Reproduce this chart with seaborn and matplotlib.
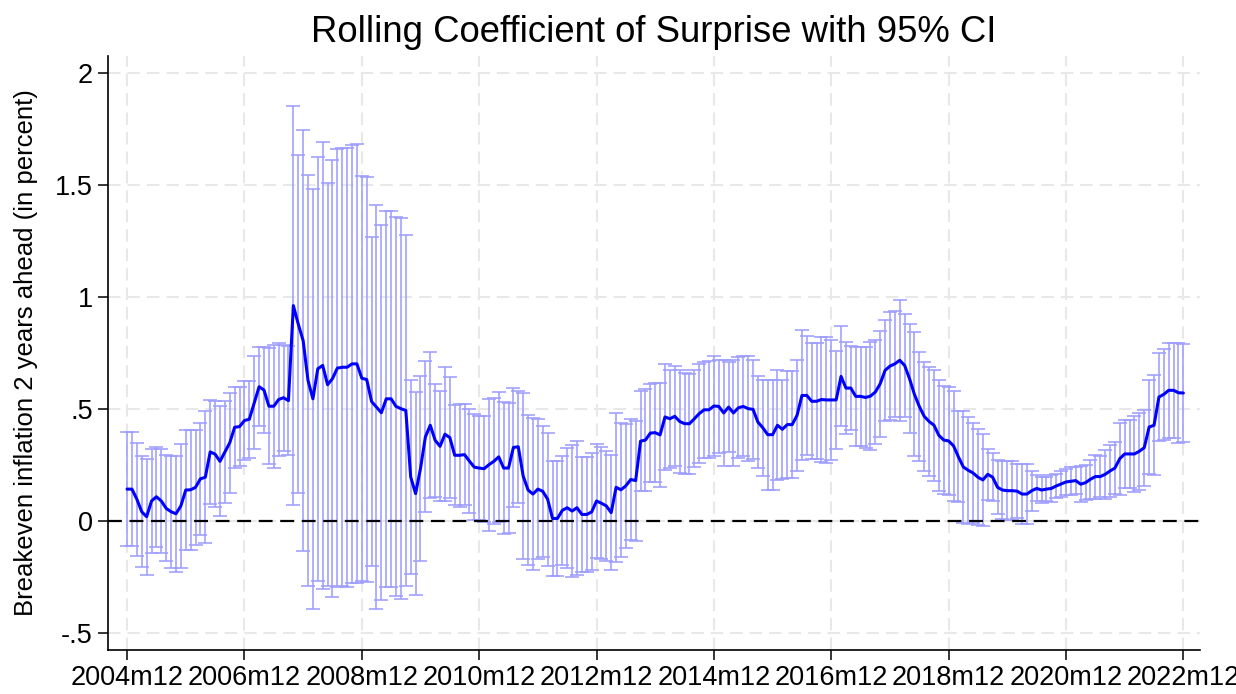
import numpy as np
import pandas as pd
import matplotlib
matplotlib.use("Agg")
import matplotlib.pyplot as plt
import seaborn as sns

# ROLLING COEFFICIENT OF SURPRISE, MONTHLY 2004m12 .. 2022m12
coef = [
    .143, .143, .098, .042, .020, .090, .109, .090, .057, .042, .033, .068,
    .139, .140, .151, .189, .196, .309, .299, .267, .309, .350, .419, .422,
    .449, .455, .528, .600, .585, .513, .513, .543, .551, .538, .962, .880,
    .806, .628, .546, .680, .695, .609, .636, .683, .687, .687, .702, .702,
    .638, .632, .534, .509, .484, .546, .546, .512, .502, .494, .197, .123,
    .235, .376, .428, .361, .334, .388, .373, .294, .294, .297, .268, .241,
    .237, .234, .252, .267, .287, .237, .237, .329, .332, .201, .139, .121,
    .143, .133, .098, .012, .012, .048, .060, .045, .060, .030, .030, .041,
    .090, .080, .068, .038, .151, .140, .158, .186, .181, .357, .362, .393,
    .395, .385, .465, .457, .468, .445, .435, .435, .457, .480, .497, .497,
    .514, .512, .483, .509, .483, .506, .512, .502, .499, .442, .417, .386,
    .386, .428, .410, .431, .431, .472, .561, .561, .535, .535, .543, .541,
    .541, .541, .646, .594, .594, .557, .557, .552, .558, .576, .613, .673,
    .692, .702, .718, .695, .636, .566, .512, .468, .445, .428, .383, .362,
    .358, .336, .287, .242, .227, .215, .196, .184, .209, .196, .151, .139,
    .136, .136, .134, .121, .121, .136, .146, .139, .143, .146, .157, .166,
    .175, .178, .181, .165, .172, .187, .199, .199, .209, .224, .237, .279,
    .300, .300, .300, .312, .328, .420, .428, .554, .566, .584, .584, .573,
    .572,
]
# HALF WIDTH OF THE 95% CI AROUND EACH COEFFICIENT
ci_half = [
    .254, .254, .253, .248, .259, .234, .223, .234, .237, .249, .258, .276,
    .268, .267, .256, .251, .294, .231, .236, .246, .229, .223, .181, .178,
    .177, .171, .207, .177, .192, .259, .274, .252, .236, .242, .892, .753,
    .939, .918, .936, .946, .999, .898, .975, .977, .977, .980, .977, .980,
    .903, .905, .732, .902, .837, .839, .839, .844, .849, .784, .431, .453,
    .415, .337, .326, .252, .246, .299, .270, .223, .229, .226, .233, .237,
    .234, .237, .294, .281, .291, .294, .291, .264, .249, .369, .333, .339,
    .314, .292, .297, .255, .255, .242, .267, .294, .299, .257, .257, .261,
    .254, .249, .246, .256, .332, .300, .276, .271, .268, .224, .229, .220,
    .221, .231, .237, .219, .224, .228, .226, .223, .216, .222, .213, .217,
    .225, .208, .237, .201, .237, .226, .223, .233, .220, .204, .214, .245,
    .245, .245, .221, .239, .239, .248, .290, .267, .259, .259, .278, .280,
    .268, .220, .223, .205, .186, .220, .220, .225, .241, .233, .237, .227,
    .240, .238, .271, .230, .244, .277, .245, .242, .245, .247, .249, .241,
    .240, .247, .203, .250, .240, .225, .215, .205, .115, .106, .120, .129,
    .132, .132, .122, .135, .135, .090, .058, .060, .053, .061, .054, .060,
    .059, .063, .060, .079, .077, .088, .098, .091, .108, .115, .117, .161,
    .152, .152, .168, .171, .170, .209, .224, .197, .203, .211, .211, .222,
    .220,
]
x_tick_labels = ["2004m12", "2006m12", "2008m12", "2010m12", "2012m12",
                 "2014m12", "2016m12", "2018m12", "2020m12", "2022m12"]
y_ticks = [-0.5, 0, 0.5, 1, 1.5, 2]
y_tick_labels = ["-.5", "0", ".5", "1", "1.5", "2"]

df = pd.DataFrame({"month": np.arange(len(coef)), "coef": coef, "half": ci_half})

sns.set_style("white")
plt.rcParams['font.family'] = ['Liberation Sans', 'DejaVu Sans']
plt.rcParams['lines.scale_dashes'] = False
plt.rcParams['text.color'] = 'black'
plt.rcParams['axes.labelcolor'] = 'black'

fig = plt.figure(figsize=(12.36, 6.94), dpi=100)
ax = fig.add_axes([108/1236, 1 - 650/694, (1200 - 108)/1236, (650 - 56)/694])

# GRID
ax.set_axisbelow(True)
ax.grid(True, color='#e8e8e8', linewidth=1.5, linestyle=(0, (9, 5)))

# CI BARS, ZERO LINE AND COEFFICIENT
ax.errorbar(df.month, df.coef, yerr=df.half, fmt='none', ecolor='#9e9eff',
            elinewidth=1.15, capsize=5, capthick=1.15, zorder=2)
ax.axhline(0, color='black', linewidth=1.6, dashes=(10, 5.5), zorder=3)
sns.lineplot(data=df, x='month', y='coef', ax=ax, color='#0000ff', linewidth=2.2, zorder=4)

ax.set_xlim(-3.9, 219.4)
ax.set_ylim(-0.575, 2.076)
ax.set_xticks(np.arange(len(x_tick_labels)) * 24)
ax.set_xticklabels(x_tick_labels)
ax.set_yticks(y_ticks)
ax.set_yticklabels(y_tick_labels)
ax.tick_params(direction='out', length=7, width=1.1, labelsize=19.5, pad=4,
               colors='black', bottom=True, left=True)

sns.despine(ax=ax)
for s in ['left', 'bottom']:
    ax.spines[s].set_linewidth(1.2)
    ax.spines[s].set_color('black')

ax.set_xlabel("")
ax.set_ylabel("Breakeven inflation 2 years ahead (in percent)", fontsize=18.5, labelpad=12)
ax.set_title("Rolling Coefficient of Surprise with 95% CI", fontsize=26.3, pad=10)

plt.savefig("out.png", dpi=100)
